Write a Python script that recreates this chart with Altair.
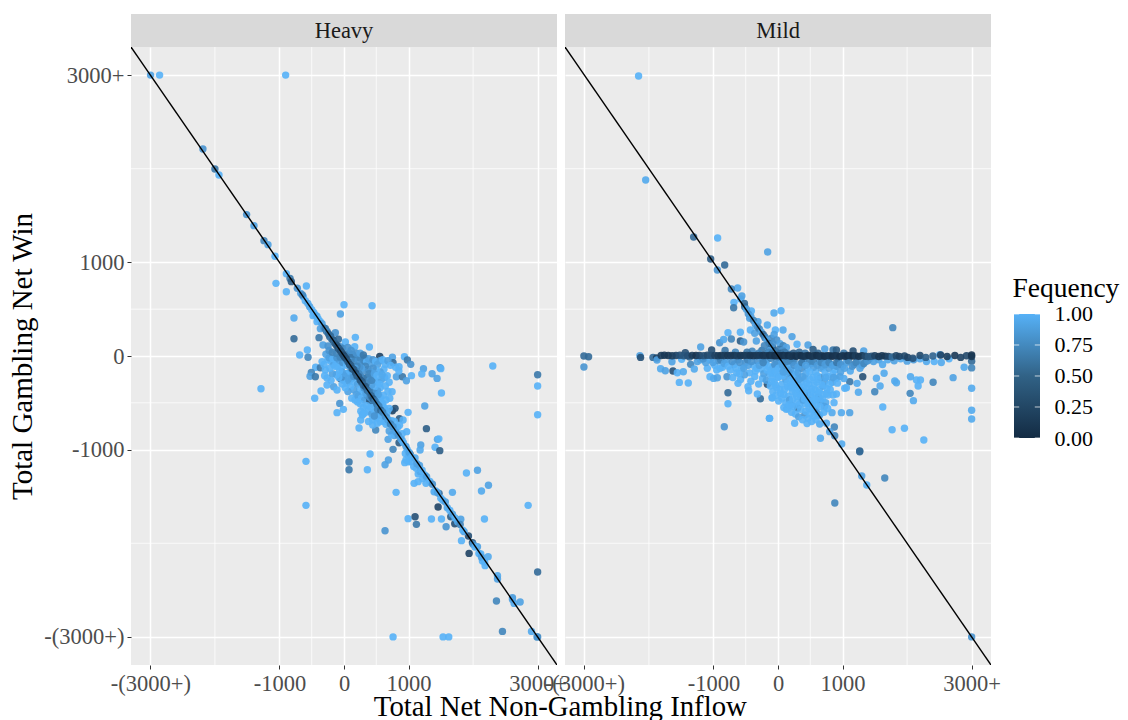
import altair as alt
import pandas as pd

SERIF = "Liberation Serif"
major = [-3000, -1000, 0, 1000, 3000]
minor = [-2000, -500, 500, 2000]
low_color, high_color = "#132B43", "#56B1F7"
legend_ticks = [0, .25, .5, .75, 1]

heavy_tail = [
(-2997,3000,.9),(-2857,3000,1),(-904,3000,1),(-2186,2211,.8),(-2000,1997,.6),(-1937,1933,1),
(-1509,1510,.8),(-1395,1392,.9),(-1240,1232,.7),(-1178,1189,.9),(-1069,1065,1),(-893,879,1),
(-836,829,.6),(-816,794,.4),(-1054,776,1),(-893,687,1),(-583,748,1),(-723,723,.8),(-671,669,.9),
(-630,634,1),(-645,651,.7),(-532,527,.9),(-600,590,1),(-560,560,.95),(-500,495,1),(-470,465,1),
(0,548,1),(435,537,1),(-56,448,.9),(-775,406,.95),(-480,431,1),(-418,367,1),(-366,292,.9),
(-273,267,.5),(-134,249,.8),(-775,185,.5),(-387,196,.6),(176,199,1),(-222,206,.5),(-87,178,.5),
(21,149,1),(-325,117,.9),(-247,107,.8),(393,96,1),(166,100,1),(-568,64,1),(-687,11,1),(-557,-14,.7),
(-222,-18,.2),(554,-4,.2),(750,-14,.9),(936,-7,1),(982,-43,.6),(1034,-89,.8),(760,-71,.5),(321,-21,.6),
(171,-25,.4),(-439,-121,1),(-366,-125,.6),(-506,-175,.7),(-526,-217,.9),(-444,-221,.6),(1231,-135,.9),
(1489,-125,.85),(1500,-135,1),(1365,-189,.9),(1205,-192,1),(1442,-239,.9),(2305,-107,1),(-1286,-349,1),
(1510,-395,1),(1251,-534,.9),(-263,-235,1),(-263,-310,1),(-356,-374,1),(-454,-452,1),(-160,-328,.9),
(-108,-363,1),(-66,-506,.8),(-10,-570,1),(-108,-605,1),(-56,-239,.3),(812,-221,.9),(905,-221,.6),
(1045,-210,1),(967,-264,.9),(853,-114,1),(993,-602,1),(1277,-776,.4),(745,-381,1),(709,-452,1),
(3000,-627,1),(3000,-200,.6),(3000,-320,1),(750,-584,.2),(791,-559,.3),(859,-669,.4),(915,-684,1),(233,-769,1),(491,-790,.7),
(259,-684,1),(285,-630,1),(445,-737,1),(517,-719,1),(683,-890,.9),(853,-926,.4),(972,-808,1),
(760,-997,.7),(1448,-890,.9),(1470,-885,1),(1411,-975,1),(1484,-1011,.4),(1189,-951,.9),(1179,-1004,.95),
(404,-1047,1),(-589,-1125,1),(78,-1132,.6),(78,-1214,.6),(362,-1214,1),(688,-1111,.9),(636,-1161,.9),
(941,-1139,1),(1024,-1050,.4),(1179,-1235,.4),(1086,-1360,1),(1148,-1342,1),(1897,-1250,1),(2068,-1221,.9),
(2238,-1381,.9),(2130,-1442,.95),(1680,-1456,.95),(807,-1456,1),(1396,-1449,.95),(1473,-1467,.5),
(1458,-1613,.2),(-589,-1595,1),(2853,-1595,1),(993,-1737,1),(1101,-1716,.3),(1122,-1798,.6),(1355,-1741,1),
(1510,-1741,1),(1582,-1823,.8),(1716,-1791,.3),(1654,-1716,.4),(1809,-1744,.9),(2176,-1741,1),(636,-1866,.8),
(1820,-1972,1),(1938,-2108,.2),(1990,-1994,.3),(1928,-1922,.3),(1861,-1876,.9),(2068,-2036,.9),(2119,-2115,1),
(2233,-2143,.95),(2145,-2190,1),(2186,-2239,1),(2378,-2346,.95),(2378,-2382,.9),(3000,-2307,.5),(2362,-2617,.7),
(2610,-2581,.85),(2636,-2642,.95),(2729,-2627,.9),(2455,-2941,.7),(2905,-2941,.95),(3000,-3000,.7),(2990,-3000,.8),
(760,-3000,1),(1535,-3000,1),(1623,-3000,1),
]
heavy_line = [
(1010,-1030,.9),(1050,-1080,1),(1100,-1090,.95),(1130,-1150,.9),(1170,-1170,.9),(1210,-1220,1),(1250,-1270,1),
(1280,-1290,.9),(1330,-1340,1),(1370,-1370,.8),(1420,-1440,1),(1450,-1460,.9),(1500,-1520,1),(1530,-1540,1),
(1570,-1560,.9),(1600,-1620,.95),(1640,-1650,1),(1680,-1690,.9),(1720,-1730,1),(1760,-1770,.95),(1800,-1800,.7),
(1840,-1860,1),(2000,-2010,.8),(2030,-2040,1),(2090,-2110,1),(2130,-2150,.9),(2180,-2200,1),(2610,-2600,.9),
(-450,440,1),(-420,425,.95),(-400,395,1),(-370,370,1),(-340,345,.9),(-310,300,.8),(-290,295,.6),(-260,260,.7),
(-240,235,.5),(-210,215,.5),(-190,180,.6),(-170,170,.4),(-150,145,.5),(-130,125,.4),(-110,110,.35),(-90,85,.3),
(-70,70,.4),(-50,50,.3),(-30,30,.35),(-15,15,.3),(0,0,.25),(15,-15,.3),(35,-30,.3),(60,-60,.35),(85,-90,.3),
(105,-100,.4),(130,-135,.35),(150,-145,.4),(180,-180,.3),(200,-210,.4),(225,-220,.45),(250,-255,.35),(280,-275,.4),
(300,-310,.5),(330,-325,.4),(360,-365,.5),(390,-385,.6),(420,-425,.5),(450,-455,.4),(480,-480,.6),(510,-515,.6),
(540,-535,.7),(570,-580,.5),(600,-600,.7),(640,-645,.8),(680,-680,.9),(720,-725,.7),(760,-755,.8),(800,-810,.9),
(840,-845,.8),(880,-885,.9),(920,-925,1),(960,-965,.9),
]
heavy_core = [
(-200,-60,1),(-160,-90,.9),(-130,-40,1),(-100,-110,1),(-70,-50,.9),(-40,-120,1),(-20,-70,.8),(10,-40,.9),(40,-100,1),
(60,-20,.6),(90,-60,.9),(120,-30,.8),(150,-70,.7),(180,-10,.7),(220,-50,.8),(250,-20,.7),(280,-80,.8),(310,-50,.7),
(350,-60,1),(380,-30,.9),(420,-80,.9),(450,-40,.8),(490,-60,1),(520,-90,.9),(560,-50,.9),(600,-40,1),(640,-90,1),
(680,-50,.9),(720,-100,1),(800,-120,1),(850,-160,1),(620,-140,1),(560,-170,.9),(500,-150,1),(450,-130,.8),(410,-170,.9),
(370,-140,.8),(330,-110,.7),(300,-160,.8),(270,-130,.9),(240,-120,.8),(200,-110,.7),(170,-130,.9),(130,-170,1),(100,-200,1),
(70,-180,.9),(30,-190,1),(0,-210,.9),(-30,-170,.9),(-70,-160,1),(-120,-200,1),(-180,-190,.9),(-220,-130,1),(-290,-150,1),
(-310,-90,1),(-250,-40,1),(-10,-260,.8),(40,-290,1),(80,-270,.9),(120,-240,.8),(160,-280,1),(210,-300,.9),(260,-220,.7),
(310,-240,.7),(360,-230,.6),(400,-260,.8),(440,-210,.8),(480,-260,1),(530,-280,1),(580,-250,.9),(630,-230,.95),(670,-210,1),
(700,-280,1),(560,-340,1),(520,-370,.9),(470,-330,1),(430,-310,.9),(390,-350,.9),(340,-330,.8),(290,-390,1),(240,-360,1),
(190,-410,.9),(150,-360,.9),(100,-330,1),(60,-380,.9),(120,-450,1),(170,-470,1),(220,-430,.9),(270,-450,1),(320,-470,.9),
(370,-430,.8),(420,-390,.7),(460,-420,.7),(510,-450,.9),(560,-440,1),(610,-420,1),(650,-470,1),(600,-510,1),(550,-540,1),
(500,-500,.9),(450,-520,1),(400,-480,.3),(350,-530,1),(300,-550,1),(260,-590,1),(320,-610,1),(380,-590,1),(430,-620,.9),
(480,-590,1),(530,-630,.8),(580,-620,1),(640,-580,.9),(700,-560,1),(660,-650,.8),(620,-700,1),(560,-700,1),(500,-660,1),
(440,-680,1),(380,-700,1),(700,-720,1),(740,-690,1),(780,-700,1),(800,-780,.9),(830,-760,1),(860,-740,1),(900,-830,1),
(900,-900,1),(780,-850,.9),(740,-840,1),(700,-800,.9),(980,-1000,1),(1000,-1070,1),(950,-1040,1),(1040,-1130,1),(1080,-1180,1),
(1000,-1130,1),(960,-1110,1),(1120,-1200,1),(1150,-1260,1),(1220,-1310,1),(1270,-1360,1),
(-230,-20,.9),(-170,-30,1),(-110,-20,.8),(-60,-10,.7),(30,10,.6),(80,30,.7),(130,20,.6),(190,30,.8),(250,30,.9),(300,10,.6),
(-280,20,.9),(-230,60,.8),(-180,40,.7),(-120,30,.7),(-60,100,.8),(-20,80,.7),(60,90,.8),(110,60,.8),(-340,-60,1),(-300,-210,1),
(-200,-260,1),(-140,-110,1),(-80,-230,1),(-30,-300,1),(20,-340,1),(70,-240,.9),(110,-130,.8),(150,-220,.8),(190,-160,.7),
(230,-190,.7),(270,-280,.6),(310,-340,.8),(350,-290,.7),(390,-190,.7),(430,-260,.7),(470,-190,.9),(510,-210,1),(550,-300,1),
(590,-200,.95),(640,-320,1),(680,-380,1),(340,-400,.9),(400,-440,.8),(440,-470,.7),(480,-400,.8),(530,-410,.9),(570,-490,1),
(620,-550,1),(670,-600,1),(210,-490,1),(250,-510,1),(290,-620,1),(410,-550,1),(470,-640,.8),(520,-570,.7),(610,-650,1),(650,-730,1),
]
mild_tail = [
(-3007,0,.5),(-2935,-8,.5),(-3007,-118,.8),(-2139,3,.9),(-2129,-15,.3),(-1937,-15,.5),(-1881,-22,.2),(-1875,-43,.9),
(-1819,-136,.95),(-1746,-157,.9),(-1627,-161,.3),(-1560,-178,1),(-1467,-168,.95),(-1529,-282,1),(-1390,-289,1),
(-1198,96,.9),(-1436,35,.3),(-1369,-11,.5),(-1493,-36,1),(-1643,-61,.9),(-1353,-89,.7),(-1297,-139,.95),
(-904,142,.8),(-842,177,.95),(-775,249,1),(-723,181,.7),(-583,253,1),(-583,160,.4),(-532,149,.8),(-1028,64,.3),
(-1095,-132,1),(-1054,-221,1),(-997,-239,.95),(-940,-232,.9),(-790,-221,.8),(-775,-392,.5),(-775,-510,1),(-832,-755,.8),
(-273,-456,.5),(-320,-406,1),(-92,-445,1),(-134,-666,.95),(-454,-371,1),(-620,-292,1),(-465,-328,1),(-165,-303,.3),
(-625,726,.95),(-723,715,.7),(-578,608,1),(-682,573,1),(-687,516,.6),(-516,526,.5),(-413,480,1),(-62,459,.95),
(-439,402,.9),(-310,366,.9),(-165,331,.95),(-41,277,1),(-428,277,1),(-361,242,.9),(-336,160,.9),(-206,206,.7),(-103,188,.7),
(-940,918,.8),(-2160,2990,1),(-2050,1880,.95),(-1307,1271,.5),(-935,1260,1),(-1043,1036,.4),(-826,972,.5),(-160,1111,.9),
(880,-1570,.7),(3000,-3000,.8),(1266,-1015,.4),(1297,-1282,.9),(1375,-1378,1),(1654,-1303,.7),
(47,484,1),(78,278,.95),(217,207,.9),(295,125,1),(465,118,.9),(1778,303,.7),(724,75,.9),(853,64,.6),(905,64,.4),(543,71,.4),
(1163,53,.3),(1328,53,.9),(2507,14,1),(3000,-55,.5),(3000,-127,.7),(2884,-120,.95),(2713,-231,.9),(3000,-345,.95),
(3000,-580,.95),(3000,-673,.95),(2259,-897,1),(1959,-772,1),(1768,-787,1),(2403,-281,.7),(2207,-256,1),(2145,-256,1),
(2171,-320,1),(2052,-221,.95),(2047,-399,.7),(2098,-477,.95),(1623,-545,1),(1499,-381,.7),(1582,-320,.95),(1246,-388,.95),
(1525,-238,.95),(1809,-267,.95),(1835,-285,.95),(1225,-292,.95),(1111,-274,.6),(1313,-221,.3),(1644,-185,.95),(1060,-338,1),
(1034,-345,1),(905,-406,1),(853,-416,1),(775,-416,1),(868,-498,1),(739,-498,.95),(1111,-605,.9),(982,-605,.95),(837,-605,.95),
(646,-630,.95),(414,-630,.8),(465,-666,1),(258,-719,1),(129,-569,1),(305,-555,.5),(207,-523,.95),(-88,-445,1),(-129,-666,1),
(646,-726,.95),(750,-719,.95),(873,-758,.7),(879,-851,.7),(657,-879,.95),(801,-808,.9),(987,-940,.95),(1266,-1022,.5),
]
mild_core = [
(-560,640,.9),(-520,560,.5),(-490,500,.9),(-460,450,.8),(-420,420,.9),(-380,380,.7),(-350,340,.9),(-320,310,.8),(-290,290,.7),
(-260,255,.9),(-230,230,.5),(-200,195,.7),(-170,170,.9),(-140,135,.6),(-110,105,.5),(-80,85,.4),(-50,50,.5),(-20,20,.3),(20,-25,.4),
(50,-50,.5),(80,-85,.6),(110,-105,.5),(140,-140,.7),(170,-170,.6),(200,-205,.7),(230,-225,.8),(260,-260,.6),(290,-295,.9),(320,-320,.8),
(350,-355,.9),(380,-375,.7),(410,-415,1),(440,-445,.9),(470,-465,.6),(500,-505,1),(530,-525,.9),(560,-570,1),(590,-590,.8),(620,-630,.9),
(-60,230,.9),(-20,170,.8),(30,130,.9),(80,110,.7),(130,90,.9),(-140,60,.9),(-80,130,.8),(20,70,.6),(70,60,.8),
(-1200,-40,.9),(-1120,-70,.9),(-1050,-40,.95),(-980,-100,1),(-920,-50,.8),(-860,-120,1),(-800,-60,.9),(-740,-150,1),(-680,-90,.9),
(-620,-40,.7),(-560,-130,1),(-500,-70,.8),(-440,-180,1),(-380,-100,1),(-320,-50,.8),(-260,-140,1),(-200,-80,.9),(-140,-190,1),(-80,-120,.9),
(-20,-60,.8),(40,-170,1),(100,-60,.8),(160,-110,1),(220,-70,.9),(280,-150,1),(340,-90,.95),(400,-50,.85),(460,-130,1),(520,-80,.9),
(580,-170,1),(640,-60,.85),(700,-120,1),(760,-50,.8),(820,-90,.95),(880,-150,1),(940,-60,.8),(1000,-110,1),(1060,-70,.9),(1120,-160,.95),
(1180,-90,.7),(1240,-50,.85),(1300,-100,.9),(1360,-60,.95),(1420,-30,.8),(1480,-60,.9),(1560,-40,.9),(1620,-90,.95),(1700,-40,.95),(1800,-50,.9),
(1900,-30,.95),(2000,-55,.9),(2100,-40,.85),(2200,-30,.95),(2300,-60,.95),(2420,-60,1),(2530,-70,.95),(2650,-30,1),
(-700,-230,1),(-640,-180,1),(-580,-250,1),(-520,-200,.9),(-420,-270,1),(-360,-220,1),(-300,-300,1),(-240,-240,1),(-180,-260,.9),(-120,-320,1),
(-60,-280,1),(0,-230,1),(60,-300,1),(120,-250,.9),(180,-320,1),(240,-270,1),(300,-220,1),(360,-280,1),(420,-240,.9),(480,-300,1),(540,-230,1),
(600,-280,1),(660,-230,.8),(720,-270,.9),(780,-220,1),(840,-280,.9),(900,-240,1),(960,-220,.9),(1020,-240,.95),(-80,-380,1),(-20,-340,1),
(40,-400,1),(100,-360,1),(160,-430,1),(220,-380,1),(280,-350,1),(340,-420,1),(400,-330,1),(460,-390,1),(520,-350,1),(580,-410,1),(640,-360,1),
(700,-320,.9),(760,-350,1),(120,-500,1),(180,-470,.9),(240,-540,1),(300,-490,1),(360,-450,1),(420,-510,1),(480,-560,1),(540,-480,1),(600,-520,1),
(660,-480,.9),(720,-540,.9),(430,-590,1),(500,-620,1),(560,-640,1),
(-240,-30,.8),(-170,-40,.9),(-110,-25,.7),(-60,-190,1),(-30,-110,.9),(30,-90,.9),(70,-210,1),(130,-180,.95),(190,-50,.7),(250,-40,.7),
(250,-200,1),(310,-180,.9),(370,-130,.8),(430,-190,.95),(490,-60,.7),(550,-120,.9),(610,-210,1),(670,-130,.9),(730,-180,1),(790,-130,.9),
(850,-190,1),(910,-110,.85),(970,-170,.9),(-90,-230,1),(-150,-110,1),(-220,-190,.9),(-330,-130,1),(-460,-100,.9),(-600,-190,1),(-900,-130,1),
(60,-450,1),(10,-480,1),(-30,-420,1),(90,-550,1),(150,-560,1),(210,-600,1),(270,-620,1),(330,-520,1),(390,-470,.9),(450,-400,.8),(510,-430,1),
(570,-360,1),(630,-440,.9),(690,-410,1),(320,-650,.9),(380,-680,1),(450,-720,1),(520,-700,1),(590,-680,1),
]
mild_fill = [
(-1250,-60,.9),(-1160,-30,.8),(-1010,-70,.9),(-950,-150,1),(-890,-40,.7),(-830,-80,.9),(-770,-110,1),(-710,-60,.8),(-650,-130,1),(-590,-70,.8),
(-530,-130,.9),(-470,-40,.7),(-410,-60,.8),(-350,-160,1),(-290,-100,.9),(-230,-70,.7),(-170,-150,1),(-110,-170,1),(-50,-90,.8),(10,-130,1),
(70,-100,.9),(130,-60,.7),(190,-150,.9),(250,-100,.8),(310,-120,.9),(370,-70,.6),(430,-100,.9),(490,-170,1),(550,-60,.7),(610,-100,.85),
(670,-70,.7),(730,-90,.85),(790,-70,.7),(850,-100,.9),(910,-70,.6),(970,-90,.8),(1030,-130,.9),(1090,-50,.7),(1150,-110,.8),(1210,-70,.7),
(1270,-130,.9),(1330,-80,.7),(1390,-50,.8),(-40,-160,1),(20,-220,1),(80,-170,.9),(140,-290,1),(200,-250,1),(260,-300,1),(320,-250,.9),
(380,-220,.9),(440,-290,1),(500,-250,1),(560,-310,1),(620,-250,1),(680,-310,1),(740,-230,.95),(800,-300,1),(860,-230,.9),(920,-290,1),
(-100,-270,1),(-40,-310,1),(30,-360,1),(90,-410,1),(150,-330,1),(210,-340,1),(270,-400,1),(330,-370,1),(390,-400,1),(450,-350,1),(510,-390,1),
(570,-450,1),(630,-390,1),(690,-460,1),(750,-400,1),(810,-360,1),(170,-520,1),(230,-460,1),(290,-430,1),(350,-570,1),(410,-460,1),(470,-510,1),
(530,-570,1),(590,-470,1),(650,-540,1),(710,-600,1),(770,-560,1),(-150,40,.7),(-90,30,.6),(-30,40,.6),(40,30,.5),(100,40,.6),(170,20,.6),
(-250,60,.6),(-210,110,.7),(-300,30,.7),(-400,50,.7),(-480,40,.6),(-660,40,.7),(-820,60,.6),(240,30,.4),(330,40,.5),(420,30,.6),(620,30,.5),(1020,30,.6),
]
mild_band = [
(-1810,5,.15),(-1760,8,.12),(-1700,6,.1),(-1640,3,.15),(-1580,5,.2),(-1520,8,.3),(-1460,2,.35),(-1400,4,.3),(-1330,7,.15),(-1270,5,.08),(-1215,6,.2),
(-1150,4,.3),(-1095,8,.25),(-1040,5,.3),(-980,6,.2),(-930,4,.15),(-880,7,.1),(-830,5,.15),(-780,6,.1),(-730,5,.12),(-680,7,.1),(-630,4,.15),
(-580,6,.1),(-530,5,.12),(-480,7,.15),(-430,5,.1),(-380,4,.08),(-330,6,.1),(-280,7,.12),(-230,5,.08),(-180,4,.1),(-130,7,.05),(-90,5,.1),(-50,3,.05),
(-20,6,.08),(10,4,.1),(40,2,.08),(80,5,.05),(120,3,.1),(160,6,.05),(200,-3,.1),(240,4,.08),(280,-2,.05),(320,5,.1),(360,2,.05),(400,-4,.08),
(440,3,.1),(480,5,.05),(520,-2,.08),(560,2,.1),(600,5,.05),(640,-3,.08),(680,3,.1),(720,-2,.05),(760,4,.08),(800,2,.1),(840,-3,.05),(880,4,.08),
(920,1,.1),(960,-4,.05),(1000,3,.1),(1040,-2,.08),(1080,5,.05),(1120,2,.1),(1160,0,.05),(1200,3,.15),(1250,-4,.08),(1300,2,.1),(1350,-3,.25),
(1400,-6,.35),(1450,-2,.35),(1500,2,.2),(1560,-5,.1),(1610,3,.12),(1660,-1,.1),(1710,-4,.2),(1770,-10,.5),(1830,2,.25),(1880,-4,.2),(1960,1,.25),
(2010,-15,.2),(2090,-24,.3),(2200,5,.25),(2290,-15,.4),(2400,0,.45),(2520,10,.2),(2620,-5,.15),(2740,5,.12),(2830,-15,.2),(2920,3,.25),(3000,10,.08),(3000,-5,.1),
]

heavy = heavy_tail + heavy_core + heavy_line
mild = mild_tail + mild_core + mild_fill + mild_band

xscale = alt.Scale(domain=[-3300, 3300], nice=False, zero=False)
yscale = alt.Scale(domain=[-3300, 3300], nice=False, zero=False)
label_expr = "datum.value==-3000?'-(3000+)':datum.value==3000?'3000+':''+datum.value"
cscale = alt.Scale(domain=[0, 1], range=[low_color, high_color], interpolate="lab")


def panel(points, first):
    df = pd.DataFrame(points, columns=["x", "y", "f"])
    xaxis = alt.Axis(values=major, labelExpr=label_expr, title=None, grid=True, gridColor="white", gridWidth=1.5,
                     domain=False, tickColor="#333333", tickSize=4, labelColor="#4D4D4D", labelFont=SERIF,
                     labelFontSize=22.5, labelOverlap=False, labelBound=False, labelFlush=False, labelPadding=3)
    if first:
        yaxis = alt.Axis(values=major, labelExpr=label_expr, title="Total Gambling Net Win", grid=True, gridColor="white",
                         gridWidth=1.5, domain=False, tickColor="#333333", tickSize=4, labelColor="#4D4D4D",
                         labelFont=SERIF, labelFontSize=22.5, labelOverlap=False, labelPadding=3, titleFont=SERIF,
                         titleFontSize=29, titleFontWeight="normal", titleColor="black", titlePadding=6)
    else:
        yaxis = alt.Axis(values=major, labels=False, ticks=False, title=None, grid=True, gridColor="white",
                         gridWidth=1.5, domain=False)
    pts = alt.Chart(df).mark_circle(size=55, opacity=0.9).encode(
        x=alt.X("x:Q", scale=xscale, axis=xaxis),
        y=alt.Y("y:Q", scale=yscale, axis=yaxis),
        color=alt.Color("f:Q", scale=cscale, legend=None),
    )
    vgrid = alt.Chart(pd.DataFrame({"v": minor})).mark_rule(color="white", strokeWidth=0.75).encode(
        x=alt.X("v:Q", scale=xscale, axis=xaxis))
    hgrid = alt.Chart(pd.DataFrame({"v": minor})).mark_rule(color="white", strokeWidth=0.75).encode(
        y=alt.Y("v:Q", scale=yscale, axis=yaxis))
    line = alt.Chart(pd.DataFrame({"x": [-3300, 3300], "y": [3300, -3300]})).mark_line(
        color="black", strokeWidth=1.4, clip=True).encode(
        x=alt.X("x:Q", scale=xscale, axis=xaxis), y=alt.Y("y:Q", scale=yscale, axis=yaxis))
    return alt.layer(vgrid, hgrid, pts, line).properties(
        width=426, height=618, view=alt.ViewConfig(fill="#EBEBEB", stroke=None))


def strip(name):
    return alt.Chart(pd.DataFrame({"t": [name]})).mark_text(font=SERIF, fontSize=22.5, color="#1A1A1A").encode(
        text="t:N").properties(width=426, height=33, view=alt.ViewConfig(fill="#D9D9D9", stroke=None))


def legend_panel():
    lx = alt.Scale(domain=[-0.577, 1], nice=False, zero=False)
    ly = alt.Scale(domain=[0, 3.153], nice=False, zero=False)
    yaxis = alt.Axis(orient="right", values=legend_ticks, format=".2f", ticks=False, domain=False, grid=False, title=None,
                     labelFont=SERIF, labelFontSize=22, labelColor="black", labelPadding=14, labelOverlap=False,
                     labelBound=False, labelFlush=False)
    ramp = alt.Gradient(gradient="linear", x1=0, x2=0, y1=0, y2=1, stops=[
        alt.GradientStop(color=high_color, offset=0), alt.GradientStop(color="#316286", offset=0.5),
        alt.GradientStop(color=low_color, offset=1)])
    bar = alt.Chart(pd.DataFrame({"x": [0], "x2": [1], "y": [0], "y2": [1]})).mark_rect(fill=ramp).encode(
        x=alt.X("x:Q", scale=lx, axis=None), x2="x2:Q", y=alt.Y("y:Q", scale=ly, axis=yaxis), y2="y2:Q")
    ticks = pd.DataFrame({"v": legend_ticks * 2, "a": [0] * 5 + [.8] * 5, "b": [.2] * 5 + [1] * 5})
    marks = alt.Chart(ticks).mark_rule(color="white", strokeWidth=0.9, opacity=0.8).encode(
        x=alt.X("a:Q", scale=lx, axis=None), x2="b:Q", y=alt.Y("v:Q", scale=ly, axis=yaxis))
    title = alt.Chart(pd.DataFrame({"x": [-0.06], "y": [1.2], "t": ["Fequency"]})).mark_text(
        font=SERIF, fontSize=27.5, color="black", align="left", baseline="middle").encode(
        x=alt.X("x:Q", scale=lx, axis=None), y=alt.Y("y:Q", scale=ly, axis=yaxis), text="t:N")
    return alt.layer(bar, marks, title).properties(width=41, height=391, view=alt.ViewConfig(fill=None, stroke=None))


blank = alt.Chart(pd.DataFrame({"t": [""]})).mark_text(opacity=0).encode(text="t:N").properties(width=41, height=33)

chart = alt.concat(
    strip("Heavy"), strip("Mild"), blank,
    panel(heavy, True), panel(mild, False), legend_panel(),
    columns=3, spacing={"row": 0, "column": 8}, bounds="flush",
).properties(
    padding={"left": 0, "top": 6, "right": 0, "bottom": 0},
    title=alt.TitleParams("Total Net Non-Gambling Inflow", orient="bottom", anchor="start", dx=365, offset=-2,
                          font=SERIF, fontSize=28.8, fontWeight="normal", color="black"),
).configure_view(stroke=None).configure(background="white")

chart.save("out.html", embed_options={"renderer": "svg", "actions": False})
